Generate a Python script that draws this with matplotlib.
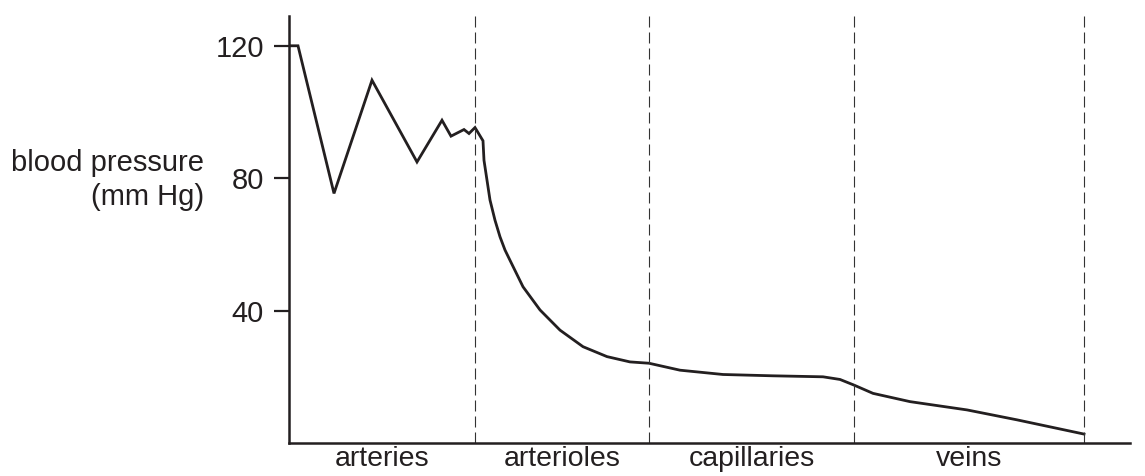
import matplotlib
matplotlib.use("Agg")
import matplotlib.pyplot as plt

plt.rcParams['font.family'] = ['Liberation Sans', 'DejaVu Sans']

# position along the circulation (arbitrary units) and pressure (mm Hg)
position = [0, 9, 45, 83, 128, 153, 162, 175, 180, 186, 194,
            195, 198, 201, 206, 211, 216, 221, 234, 251, 271,
            294, 318, 341, 360,
            391, 434, 484, 534, 551, 565,
            584, 621, 678, 728, 795]
pressure = [120, 120, 75.4, 109.6, 84.9, 97.5, 92.7, 94.7, 93.5, 95.3, 91.3,
            85.4, 79.4, 73.4, 67.3, 62.3, 58.3, 55.2, 47.2, 40.2, 34.1,
            29.1, 26.1, 24.5, 24.1,
            22.0, 20.7, 20.3, 20.0, 19.2, 17.5,
            15.0, 12.5, 10.0, 7.0, 2.7]

# vessel boundaries and names
boundaries = [186, 360, 565, 795]
vessels = ['arteries', 'arterioles', 'capillaries', 'veins']
y_ticks = [40, 80, 120]

ink = '#231f20'

fig = plt.figure(figsize=(11.45, 4.76), dpi=100)
ax = fig.add_axes([0.2524, 0.0693, 0.9869 - 0.2524, 0.9664 - 0.0693])

ax.plot(position, pressure, color=ink, lw=2.0, solid_joinstyle='miter')

for b in boundaries:
    ax.axvline(b, color='#333333', lw=0.8, linestyle=(0, (9.9, 4.5)))

ax.set_xlim(0, 841)
ax.set_ylim(0, 129)

ax.spines['top'].set_visible(False)
ax.spines['right'].set_visible(False)
for s in ('left', 'bottom'):
    ax.spines[s].set_linewidth(1.8)
    ax.spines[s].set_color(ink)

ax.set_yticks(y_ticks)
ax.set_yticklabels([str(v) for v in y_ticks], fontsize=21, color=ink)
ax.tick_params(axis='y', length=11, width=1.6, pad=7, color=ink)

edges = [0] + boundaries
centers = [(a + b) / 2 for a, b in zip(edges[:-1], edges[1:])]
ax.set_xticks(centers)
ax.set_xticklabels(vessels, fontsize=20.5, color=ink)
ax.tick_params(axis='x', length=0, pad=2)

fig.text(204 / 1145, 1 - 180 / 476, 'blood pressure\n(mm Hg)', ha='right', va='center',
         fontsize=21, color=ink, linespacing=1.25, multialignment='right')

fig.savefig('out.png', dpi=100)
